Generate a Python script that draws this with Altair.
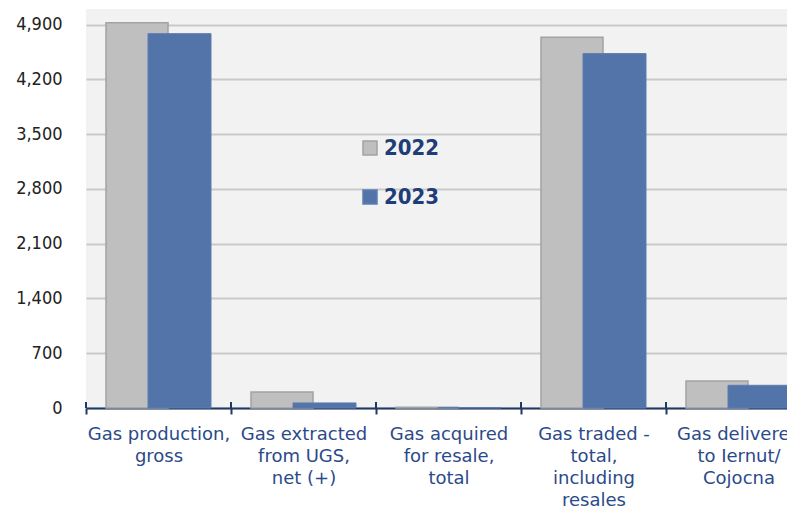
import altair as alt
import pandas as pd

categories = [
    "Gas production,|gross",
    "Gas extracted|from UGS,|net (+)",
    "Gas acquired|for resale,|total",
    "Gas traded -|total,|including|resales",
    "Gas delivered|to Iernut/|Cojocna",
]
years = ["2022", "2023"]
values_2022 = [4925, 205, 8, 4740, 345]
values_2023 = [4785, 65, 6, 4530, 290]
y_ticks = [0, 700, 1400, 2100, 2800, 3500, 4200, 4900]

rows = []
for c, v in zip(categories, values_2022):
    rows.append({"category": c, "year": "2022", "value": v})
for c, v in zip(categories, values_2023):
    rows.append({"category": c, "year": "2023", "value": v})
df = pd.DataFrame(rows)
cat_df = pd.DataFrame({"category": categories})

NAVY = "#1f3864"

xscale = alt.Scale(domain=categories, range=[0, 725], paddingInner=0, paddingOuter=0)
x_enc = alt.X(
    "category:N",
    sort=categories,
    scale=xscale,
    title=None,
    axis=alt.Axis(
        labelExpr="split(datum.label, '|')",
        labelAngle=0,
        labelAlign="center",
        labelBaseline="top",
        labelFontSize=18,
        labelFont="DejaVu Sans",
        labelColor="#2b4a8a",
        labelLineHeight=22,
        labelPadding=11,
        tickBand="extent",
        tickSize=6,
        tickColor=NAVY,
        tickWidth=2,
        domainColor=NAVY,
        domainWidth=2,
        grid=False,
        labelOverlap=False,
        labelBound=False,
    ),
)
y_enc = alt.Y(
    "value:Q",
    scale=alt.Scale(domain=[0, 5100], nice=False),
    title=None,
    axis=alt.Axis(
        values=y_ticks,
        format=",d",
        labelFontSize=18,
        labelFont="DejaVu Sans Condensed",
        labelColor="#222222",
        labelPadding=24,
        domain=False,
        ticks=False,
        grid=True,
        gridColor="#c9c9c9",
        gridWidth=2,
    ),
)
color_enc = alt.Color(
    "year:N",
    scale=alt.Scale(domain=years, range=["#bfbfbf", "#5274a8"]),
    title=None,
    legend=alt.Legend(
        orient="none",
        legendX=273,
        legendY=128,
        symbolType="square",
        symbolSize=196,
        symbolStrokeWidth=1.5,
        labelFontSize=22,
        labelFont="DejaVu Sans Condensed",
        labelFontWeight="bold",
        labelColor="#1f3d78",
        rowPadding=27,
        labelOffset=3,
        padding=0,
    ),
)
stroke_enc = alt.Stroke(
    "year:N",
    scale=alt.Scale(domain=years, range=["#a3a3a3", "#5d7db1"]),
    title=None,
)

base = alt.Chart(df).encode(x=x_enc, y=y_enc, color=color_enc, stroke=stroke_enc)

bars22 = base.transform_filter(alt.datum.year == "2022").mark_bar(
    size=62, xOffset=-21.5, strokeWidth=1.5
)
bars23 = base.transform_filter(alt.datum.year == "2023").mark_bar(
    size=63, xOffset=21, strokeWidth=1
)

# upper half of the boundary ticks (ticks cross the axis line)
ticks_up = alt.Chart(cat_df).mark_rule(color=NAVY, strokeWidth=2, xOffset=-72.5).encode(
    x=x_enc,
    y=alt.value(393),
    y2=alt.value(399),
)

chart = (
    alt.layer(bars22, bars23, ticks_up)
    .properties(
        width=701,
        height=399,
        autosize=alt.AutoSizeParams(type="none"),
        padding={"left": 78, "top": 1, "right": 0, "bottom": 102},
    )
    .configure_view(stroke=None, fill="#f2f2f2")
)

chart.save("out.html", embed_options={"renderer": "svg", "actions": False})
